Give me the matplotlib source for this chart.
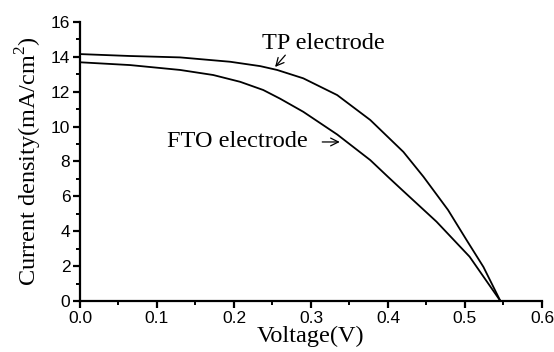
import matplotlib.pyplot as plt
from matplotlib.ticker import MultipleLocator

# J-V curves
tp_voltage = [0.0, 0.065, 0.13, 0.195, 0.234, 0.256, 0.29, 0.334, 0.377,
              0.42, 0.446, 0.478, 0.502, 0.524, 0.546]
tp_current = [14.16, 14.05, 13.97, 13.72, 13.47, 13.25, 12.77, 11.81, 10.38,
              8.55, 7.13, 5.22, 3.50, 1.95, 0.0]

fto_voltage = [0.0, 0.065, 0.13, 0.173, 0.208, 0.238, 0.26, 0.29, 0.334, 0.377,
               0.40, 0.42, 0.463, 0.506, 0.546]
fto_current = [13.69, 13.53, 13.25, 12.96, 12.57, 12.10, 11.60, 10.85, 9.55, 8.08,
               7.12, 6.30, 4.55, 2.54, 0.0]

serif = ['Liberation Serif', 'DejaVu Serif']
plt.rcParams['font.family'] = ['Liberation Sans', 'DejaVu Sans']
plt.rcParams['mathtext.fontset'] = 'custom'
plt.rcParams['mathtext.rm'] = 'Liberation Serif'

fig = plt.figure(figsize=(5.54, 3.52), dpi=100)
ax = fig.add_axes([0.1444, 0.1449, 0.8339, 0.7926])

ax.plot(tp_voltage, tp_current, color='black', lw=1.3)
ax.plot(fto_voltage, fto_current, color='black', lw=1.3)

ax.set_xlim(0, 0.6)
ax.set_ylim(0, 16)
ax.xaxis.set_major_locator(MultipleLocator(0.1))
ax.xaxis.set_minor_locator(MultipleLocator(0.05))
ax.yaxis.set_major_locator(MultipleLocator(2))
ax.yaxis.set_minor_locator(MultipleLocator(1))

for side in ['top', 'right']:
    ax.spines[side].set_visible(False)
for side in ['left', 'bottom']:
    ax.spines[side].set_linewidth(1.6)

ax.tick_params(which='major', direction='out', length=5, width=1.6, labelsize=12.5, pad=2)
ax.tick_params(which='minor', direction='out', length=3, width=1.4)

ax.set_xlabel('Voltage(V)', fontsize=17.5, family=serif, labelpad=0)
ax.set_ylabel('Current density(mA/cm$^{2}$)', fontsize=17.5, family=serif, labelpad=5)

ax.text(0.236, 14.74, 'TP electrode', fontsize=17.5, family=serif, ha='left', va='center')
ax.annotate('', xy=(0.251, 13.3), xytext=(0.269, 14.22),
            arrowprops=dict(arrowstyle='->', color='black', lw=0.9, mutation_scale=14))

ax.text(0.113, 9.12, 'FTO electrode', fontsize=17.5, family=serif, ha='left', va='center')
ax.annotate('', xy=(0.341, 9.12), xytext=(0.311, 9.12),
            arrowprops=dict(arrowstyle='->', color='black', lw=0.9, mutation_scale=14))

fig.savefig('out.png', dpi=100)
